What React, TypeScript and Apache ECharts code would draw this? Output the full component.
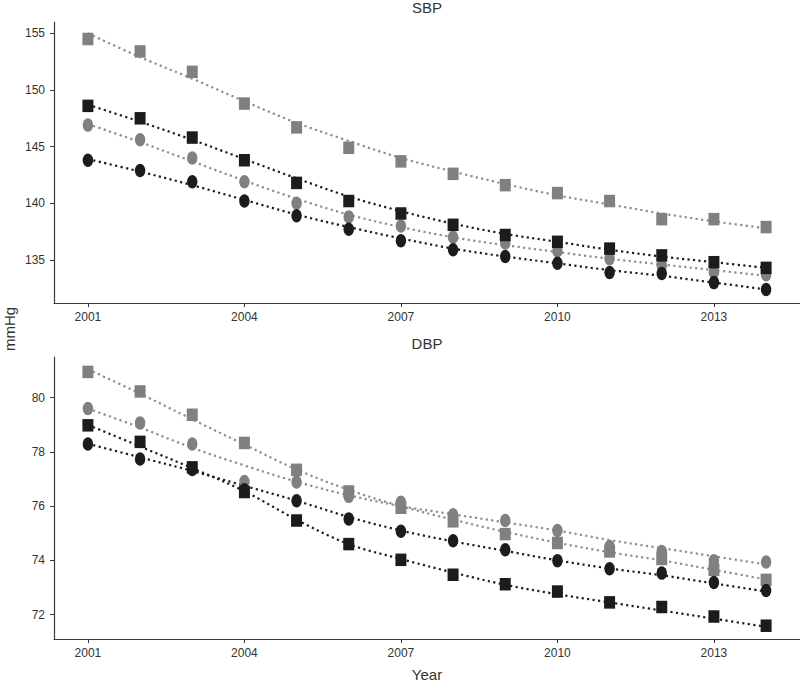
import React, { useEffect, useRef } from 'react';
import * as echarts from 'echarts';

const years = [2001, 2002, 2003, 2004, 2005, 2006, 2007, 2008, 2009, 2010, 2011, 2012, 2013, 2014];
const xTicks = [2001, 2004, 2007, 2010, 2013];
const sbpTicks = [135, 140, 145, 150, 155];
const dbpTicks = [72, 74, 76, 78, 80];

// SBP observed points
const sbpGraySq = [154.5, 153.4, 151.6, 148.8, 146.7, 144.9, 143.7, 142.6, 141.6, 140.9, 140.2, 138.6, 138.6, 137.9];
const sbpBlackSq = [148.6, 147.5, 145.8, 143.8, 141.8, 140.2, 139.1, 138.1, 137.2, 136.6, 136.0, 135.4, 134.8, 134.3];
const sbpGrayCirc = [146.9, 145.6, 144.0, 141.9, 140.0, 138.8, 138.0, 137.0, 136.5, 135.8, 135.1, 134.5, 133.9, 133.7];
const sbpBlackCirc = [143.8, 142.9, 141.9, 140.2, 138.9, 137.7, 136.7, 135.9, 135.3, 134.7, 133.9, 133.8, 133.0, 132.4];
// SBP fitted (dotted) lines
const sbpGraySqFit = [155.0, 152.9, 151.0, 149.0, 147.1, 145.5, 144.0, 142.8, 141.7, 140.7, 139.9, 139.1, 138.4, 137.8];
const sbpBlackSqFit = [148.7, 147.2, 145.6, 143.9, 142.2, 140.6, 139.3, 138.2, 137.3, 136.6, 135.9, 135.3, 134.8, 134.3];
const sbpGrayCircFit = [147.0, 145.4, 143.7, 142.0, 140.4, 139.0, 137.9, 137.0, 136.3, 135.7, 135.1, 134.6, 134.1, 133.6];
const sbpBlackCircFit = [143.9, 142.8, 141.6, 140.3, 139.0, 137.9, 136.9, 136.0, 135.3, 134.7, 134.1, 133.6, 133.0, 132.4];

// DBP observed points
const dbpGraySq = [80.95, 80.23, 79.37, 78.33, 77.34, 76.54, 75.94, 75.44, 74.97, 74.64, 74.33, 74.05, 73.65, 73.28];
const dbpBlackSq = [78.98, 78.37, 77.43, 76.52, 75.47, 74.6, 74.02, 73.47, 73.12, 72.85, 72.45, 72.28, 71.93, 71.59];
const dbpGrayCirc = [79.6, 79.07, 78.29, 76.91, 76.89, 76.36, 76.14, 75.68, 75.47, 75.1, 74.51, 74.33, 73.99, 73.94];
const dbpBlackCirc = [78.29, 77.74, 77.35, 76.6, 76.2, 75.53, 75.07, 74.72, 74.39, 73.99, 73.69, 73.53, 73.18, 72.89];
// DBP fitted (dotted) lines
const dbpGraySqFit = [81.05, 80.15, 79.2, 78.27, 77.35, 76.6, 76.0, 75.5, 75.05, 74.65, 74.3, 74.0, 73.65, 73.3];
const dbpBlackSqFit = [79.0, 78.2, 77.4, 76.55, 75.5, 74.6, 74.05, 73.55, 73.1, 72.75, 72.45, 72.15, 71.85, 71.55];
const dbpGrayCircFit = [79.6, 78.9, 78.15, 77.5, 76.9, 76.4, 76.0, 75.7, 75.4, 75.1, 74.75, 74.45, 74.15, 73.85];
const dbpBlackCircFit = [78.3, 77.8, 77.3, 76.75, 76.2, 75.6, 75.1, 74.7, 74.35, 74.0, 73.7, 73.45, 73.15, 72.85];

const GRAY = '#808080';
const GRAY_LINE = '#8c8c8c';
const BLACK = '#1c1c1c';
const TEXT = '#333333';
const FONT = "'Liberation Sans', Arial, sans-serif";
const ELLIPSE = 'path://M0,7a5.5,7 0 1,0 11,0a5.5,7 0 1,0 -11,0z';

const pairs = (vals: number[]) => years.map((y, i) => [y, vals[i]]);

function fitLine(vals: number[], color: string, idx: number) {
  return {
    type: 'line',
    xAxisIndex: idx,
    yAxisIndex: idx,
    data: pairs(vals),
    smooth: 0.35,
    symbol: 'none',
    showSymbol: false,
    lineStyle: { color, width: 2.2, type: [2.2, 3.4] },
    z: 2,
    silent: true,
  };
}

function points(vals: number[], color: string, square: boolean, idx: number) {
  return {
    type: 'scatter',
    xAxisIndex: idx,
    yAxisIndex: idx,
    data: pairs(vals),
    symbol: square ? 'rect' : ELLIPSE,
    symbolSize: square ? [11, 12.5] : [10.5, 13.5],
    itemStyle: { color, opacity: 1 },
    z: 3,
  };
}

function xAxis(idx: number) {
  return {
    type: 'value',
    gridIndex: idx,
    min: 2000.35,
    max: 2014.65,
    splitLine: { show: false },
    axisLine: { show: true, lineStyle: { color: '#3a3a3a', width: 1.2 } },
    axisTick: { show: true, length: 4, customValues: xTicks, lineStyle: { color: '#3a3a3a' } },
    axisLabel: {
      customValues: xTicks,
      formatter: (v: number) => String(v),
      color: TEXT,
      fontSize: 12,
      fontFamily: FONT,
      margin: 8,
    },
  };
}

function yAxis(idx: number, min: number, max: number, ticks: number[]) {
  return {
    type: 'value',
    gridIndex: idx,
    min,
    max,
    splitLine: { show: false },
    axisLine: { show: true, lineStyle: { color: '#3a3a3a', width: 1.2 } },
    axisTick: { show: true, length: 4, customValues: ticks, lineStyle: { color: '#3a3a3a' } },
    axisLabel: {
      customValues: ticks,
      formatter: (v: number) => String(v),
      color: TEXT,
      fontSize: 12,
      fontFamily: FONT,
      margin: 9,
    },
  };
}

export default function App() {
  const ref = useRef<HTMLDivElement>(null);
  useEffect(() => {
    document.body.style.margin = '0';
    const chart = echarts.init(ref.current!, null, { renderer: 'svg' });
    const option = {
      animation: false,
      backgroundColor: '#ffffff',
      textStyle: { fontFamily: FONT },
      grid: [
        { left: 54, right: 0, top: 22, height: 281 },
        { left: 54, right: 0, top: 357, height: 282 },
      ],
      xAxis: [xAxis(0), xAxis(1)],
      yAxis: [yAxis(0, 131.2, 156.0, sbpTicks), yAxis(1, 71.1, 81.5, dbpTicks)],
      graphic: [
        { type: 'text', x: 427, y: 7, style: { text: 'SBP', fill: TEXT, font: `15px ${FONT}`, align: 'center', verticalAlign: 'middle' } },
        { type: 'text', x: 427, y: 343, style: { text: 'DBP', fill: TEXT, font: `15px ${FONT}`, align: 'center', verticalAlign: 'middle' } },
        { type: 'text', x: 427, y: 674, style: { text: 'Year', fill: TEXT, font: `15px ${FONT}`, align: 'center', verticalAlign: 'middle' } },
        { type: 'text', x: 9, y: 329, rotation: Math.PI / 2, style: { text: 'mmHg', fill: TEXT, font: `15px ${FONT}`, align: 'center', verticalAlign: 'middle' } },
      ],
      series: [
        fitLine(sbpGraySqFit, GRAY_LINE, 0),
        fitLine(sbpGrayCircFit, GRAY_LINE, 0),
        fitLine(sbpBlackSqFit, BLACK, 0),
        fitLine(sbpBlackCircFit, BLACK, 0),
        points(sbpGraySq, GRAY, true, 0),
        points(sbpGrayCirc, GRAY, false, 0),
        points(sbpBlackCirc, BLACK, false, 0),
        points(sbpBlackSq, BLACK, true, 0),
        fitLine(dbpGraySqFit, GRAY_LINE, 1),
        fitLine(dbpGrayCircFit, GRAY_LINE, 1),
        fitLine(dbpBlackSqFit, BLACK, 1),
        fitLine(dbpBlackCircFit, BLACK, 1),
        points(dbpGraySq, GRAY, true, 1),
        points(dbpGrayCirc, GRAY, false, 1),
        points(dbpBlackCirc, BLACK, false, 1),
        points(dbpBlackSq, BLACK, true, 1),
      ],
    };
    chart.setOption(option as any);
    return () => chart.dispose();
  }, []);
  return <div ref={ref} style={{ width: 800, height: 684 }} />;
}
